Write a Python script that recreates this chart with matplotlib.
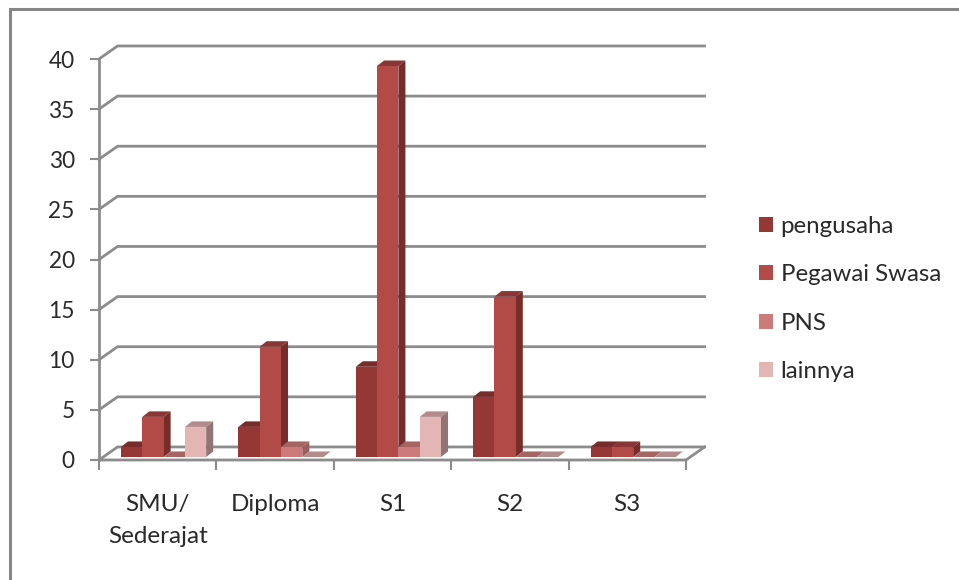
import numpy as np
import matplotlib
matplotlib.use("Agg")
import matplotlib.pyplot as plt
from matplotlib.lines import Line2D
from matplotlib.patches import Patch, Polygon

categories = ["SMU/\nSederajat", "Diploma", "S1", "S2", "S3"]
series_names = ["pengusaha", "Pegawai Swasa", "PNS", "lainnya"]
pengusaha = [1, 3, 9, 6, 1]
pegawai_swasa = [4, 11, 39, 16, 1]
pns = [0, 1, 1, 0, 0]
lainnya = [3, 0, 4, 0, 0]
y_ticks = [0, 5, 10, 15, 20, 25, 30, 35, 40]

series_values = [pengusaha, pegawai_swasa, pns, lainnya]

# warna: depan, samping, atas
front_colors = ["#953735", "#b24a48", "#cc7b7a", "#e3b5b4"]
side_colors = ["#772c2a", "#772c2a", "#9d5f5e", "#917473"]
top_colors = ["#772c2a", "#8a3634", "#a66463", "#b28c8b"]

GRID = "#8c8c8c"
TEXT = "#2a2a2a"

W, H = 959, 580
plt.rcParams["font.family"] = ["Lato", "DejaVu Sans"]

fig = plt.figure(figsize=(W / 100, H / 100), dpi=100)
ax = fig.add_axes([99 / W, 1 - 460 / H, 587 / W, 401 / H])
ax.set_xlim(0, 5)
ax.set_ylim(0, 40)
ax.patch.set_visible(False)
for s in ax.spines.values():
    s.set_visible(False)

# kedalaman dinding belakang dan kedalaman batang
wall_dx, wall_dy = 0.158, 1.3
bar_dx, bar_dy = 0.06, 0.55
base = 0.3
group_offset = 0.187
bar_w = 0.1815

# garis dinding belakang
for v in y_ticks:
    ax.plot([0, wall_dx, 5 + wall_dx], [v, v + wall_dy, v + wall_dy],
            color=GRID, lw=2, clip_on=False, zorder=1, solid_joinstyle="miter")
ax.plot([0, 0], [0, 40], color=GRID, lw=2, clip_on=False, zorder=1)
ax.plot([0, 5, 5 + wall_dx], [0, 0, wall_dy], color=GRID, lw=2, clip_on=False, zorder=1)

# batang 3D: sisi depan dari ax.bar, sisi atas dan samping poligon
z = 3
for i in range(len(categories)):
    for j, vals in enumerate(series_values):
        v = vals[i]
        x0 = i + group_offset + j * bar_w
        x1 = x0 + bar_w
        y1 = base + v
        ax.add_patch(Polygon([(x0, y1), (x0 + bar_dx, y1 + bar_dy),
                              (x1 + bar_dx, y1 + bar_dy), (x1, y1)],
                             fc=top_colors[j], ec="none", zorder=z, clip_on=False))
        if v > 0:
            ax.add_patch(Polygon([(x1, base), (x1 + bar_dx, base + bar_dy),
                                  (x1 + bar_dx, y1 + bar_dy), (x1, y1)],
                                 fc=side_colors[j], ec="none", zorder=z, clip_on=False))
            ax.bar(x0, v, bar_w, bottom=base, align="edge", color=front_colors[j],
                   linewidth=0, zorder=z + 0.5, clip_on=False)
        z += 1

ax.set_yticks(y_ticks)
ax.set_xticks(np.arange(len(categories) + 1))
ax.set_xticklabels([])
ax.tick_params(axis="y", length=6.5, width=1.5, color=GRID, pad=11, labelsize=16.3, labelcolor=TEXT)
ax.tick_params(axis="x", length=7, width=1.5, color=GRID)

# label kategori di tengah tiap kelompok
for i, name in enumerate(categories):
    ax.annotate(name, xy=(i + 0.5, 0), xytext=(0, -24.5), textcoords="offset points",
                ha="center", va="top", fontsize=17.5, color=TEXT, linespacing=1.66)

handles = [Patch(fc=c, ec="none", label=n) for c, n in zip(front_colors, series_names)]
ax.legend(handles=handles, loc="center left", bbox_to_anchor=(759 / W, 1 - 299 / H),
          bbox_transform=fig.transFigure, frameon=False, fontsize=17.3, labelcolor=TEXT,
          labelspacing=1.14, handlelength=0.6, handleheight=0.6, handletextpad=0.3,
          borderpad=0, borderaxespad=0)

# bingkai area grafik, hanya kiri dan atas
fig.add_artist(Line2D([9.5 / W, 9.5 / W, 1], [0, 1 - 8.5 / H, 1 - 8.5 / H],
                      color="#868686", lw=2.2, solid_joinstyle="miter"))

fig.savefig("out.png", dpi=100)
